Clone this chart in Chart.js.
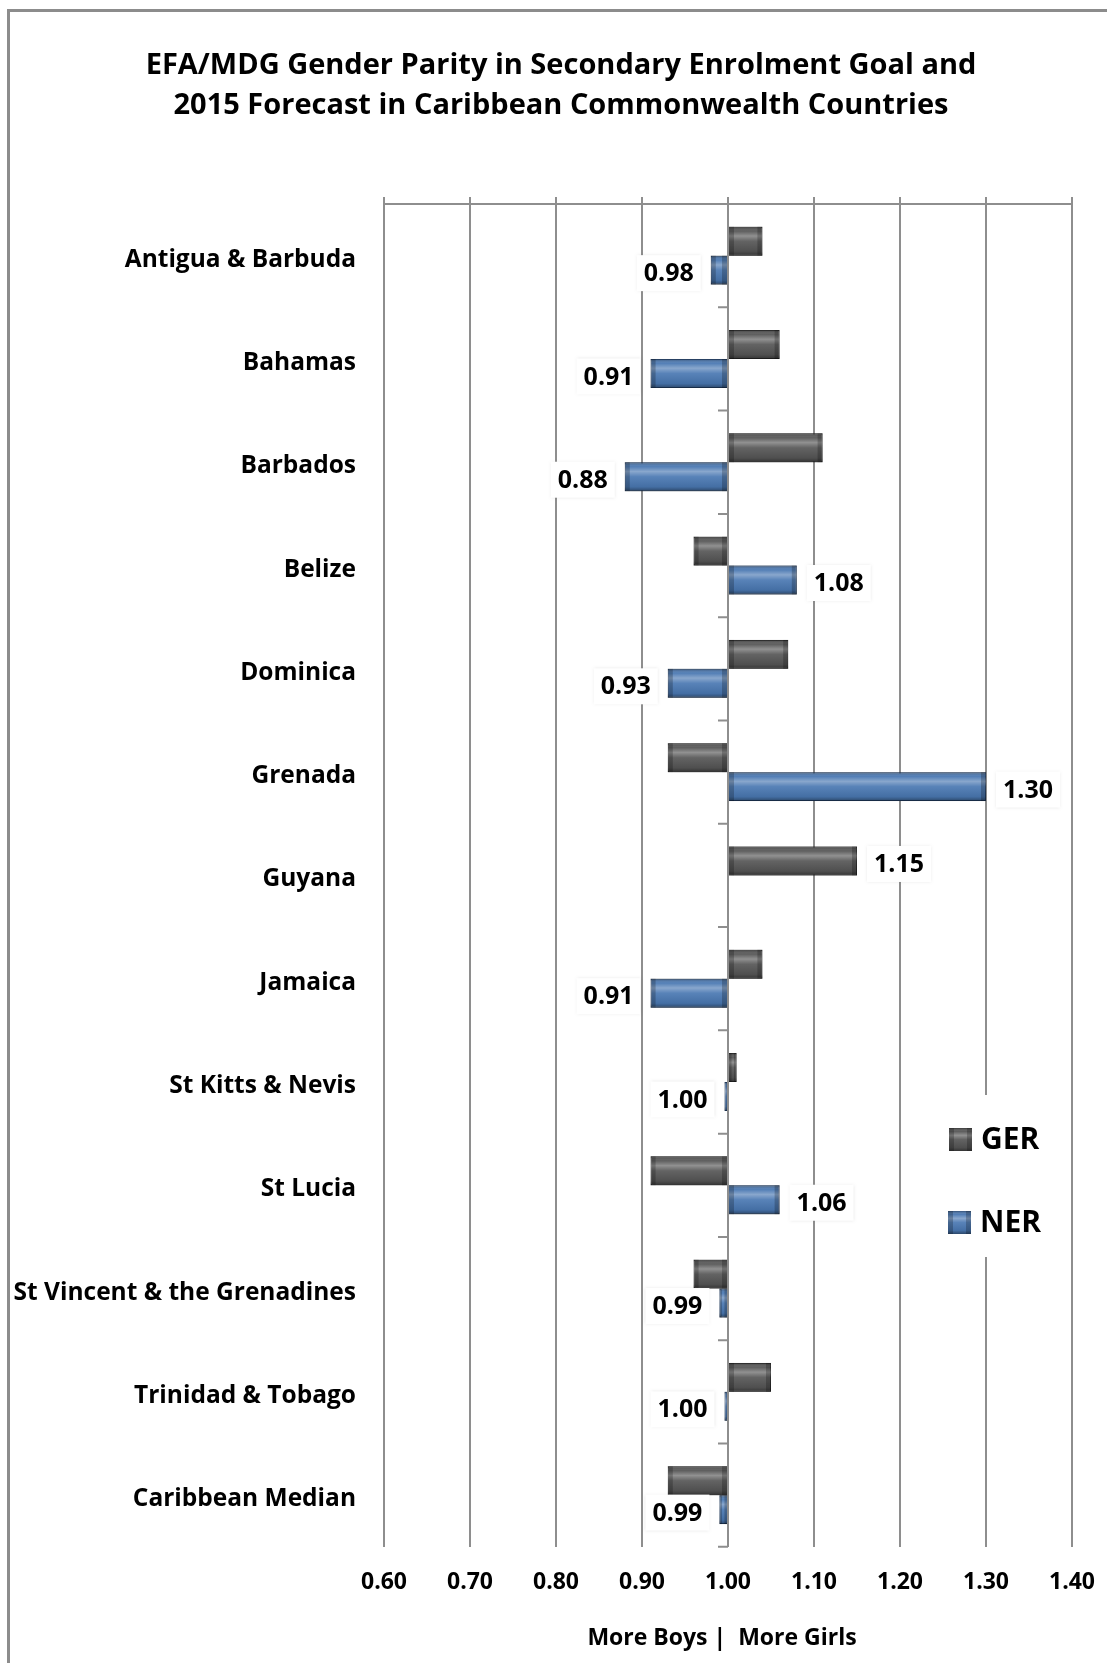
<!DOCTYPE html>
<html lang="en">
<head>
<meta charset="UTF-8">
<title>EFA/MDG Gender Parity in Secondary Enrolment</title>
<script src="https://cdn.jsdelivr.net/npm/chart.js"></script>
<style>
  body { margin: 0; background: #fff; overflow: hidden; }
  .frame { position: absolute; left: 7px; top: 9px; width: 1300px; height: 1900px; border: 3px solid #8c8c8c; }
  .box { position: absolute; left: 0; top: 0; width: 1107px; height: 1663px; }
</style>
</head>
<body>
<div class="frame"></div>
<div class="box"><canvas id="chart"></canvas></div>

<script>
// data
var categories = ['Antigua & Barbuda', 'Bahamas', 'Barbados', 'Belize', 'Dominica', 'Grenada', 'Guyana',
  'Jamaica', 'St Kitts & Nevis', 'St Lucia', 'St Vincent & the Grenadines', 'Trinidad & Tobago', 'Caribbean Median']
var gerValues = [1.04, 1.06, 1.11, 0.96, 1.07, 0.93, 1.15, 1.04, 1.01, 0.91, 0.96, 1.05, 0.93]
var nerValues = [0.98, 0.91, 0.88, 1.08, 0.93, 1.30, null, 0.91, 0.996, 1.06, 0.99, 0.996, 0.99]
var xTicks = [0.6, 0.7, 0.8, 0.9, 1.0, 1.1, 1.2, 1.3, 1.4]

var fontFamily = '"Open Sans", Lato, sans-serif'
var gridColor = '#8e8e8e'
var colors = {
  GER: { fill: '#565656', edge: '#383838' },
  NER: { fill: '#4a78b2', edge: '#2d5387' }
}

function barGloss(ctx, left, top, w, h) {
  var g = ctx.createLinearGradient(0, top, 0, top + h)
  g.addColorStop(0, 'rgba(0,0,0,0.35)')
  g.addColorStop(0.15, 'rgba(255,255,255,0.05)')
  g.addColorStop(0.32, 'rgba(255,255,255,0.35)')
  g.addColorStop(0.5, 'rgba(255,255,255,0.08)')
  g.addColorStop(0.85, 'rgba(0,0,0,0.08)')
  g.addColorStop(1, 'rgba(0,0,0,0.4)')
  ctx.fillStyle = g
  ctx.fillRect(left, top, w, h)
  var e = Math.min(5, w / 3)
  ctx.fillStyle = 'rgba(0,0,0,0.22)'
  ctx.fillRect(left, top, e, h)
  ctx.fillRect(left + w - e, top, e, h)
}

var parityDecor = {
  id: 'parityDecor',
  afterLayout: function (chart) {
    // let the long category labels run past the axis box instead of being clipped
    chart.scales.y.left = 0
  },
  beforeDatasetsDraw: function (chart) {
    var ctx = chart.ctx
    var a = chart.chartArea
    var xS = chart.scales.x
    var yS = chart.scales.y
    ctx.save()
    ctx.strokeStyle = gridColor
    ctx.lineWidth = 2
    ctx.beginPath()
    ctx.moveTo(a.left - 1, a.top)
    ctx.lineTo(a.right + 1, a.top)
    xTicks.forEach(function (t) {
      var px = xS.getPixelForValue(t)
      ctx.moveTo(px, a.top - 7)
      ctx.lineTo(px, a.top)
    })
    var x1 = xS.getPixelForValue(1)
    for (var i = 0; i <= categories.length; i++) {
      var yy = yS.getPixelForValue(i - 0.5)
      ctx.moveTo(x1 - 10, yy)
      ctx.lineTo(x1, yy)
    }
    ctx.stroke()
    ctx.restore()

    // soft shadow under the bars
    ctx.save()
    ctx.shadowColor = 'rgba(0,0,0,0.3)'
    ctx.shadowBlur = 5
    ctx.shadowOffsetX = 2
    ctx.shadowOffsetY = 2
  },
  afterDatasetsDraw: function (chart) {
    var ctx = chart.ctx
    ctx.restore()

    chart.data.datasets.forEach(function (ds, di) {
      chart.getDatasetMeta(di).data.forEach(function (bar, i) {
        if (ds.data[i] == null) return
        var left = Math.min(bar.x, bar.base)
        var w = Math.abs(bar.x - bar.base)
        barGloss(ctx, left, bar.y - bar.height / 2, w, bar.height)
      })
    })

    // value labels (NER, or GER where NER is missing)
    ctx.save()
    ctx.font = 'bold 25px ' + fontFamily
    ctx.textBaseline = 'middle'
    categories.forEach(function (c, i) {
      var di = nerValues[i] != null ? 1 : 0
      var v = chart.data.datasets[di].data[i]
      var bar = chart.getDatasetMeta(di).data[i]
      var text = v.toFixed(2)
      var w = ctx.measureText(text).width
      var x = v < 1 ? bar.x - 17 - w : bar.x + 17
      var y = bar.y + 3
      ctx.shadowColor = 'rgba(0,0,0,0.12)'
      ctx.shadowBlur = 3
      ctx.fillStyle = '#fff'
      ctx.fillRect(x - 7, y - 18, w + 14, 36)
      ctx.shadowColor = 'transparent'
      ctx.fillStyle = '#000'
      ctx.fillText(text, x, y + 1)
    })
    ctx.restore()

    // legend
    ctx.save()
    ctx.fillStyle = '#fff'
    ctx.fillRect(925, 1095, 137, 162)
    var items = [['GER', 949, 1128, 1140], ['NER', 948, 1211, 1223]]
    items.forEach(function (it) {
      var c = colors[it[0]]
      ctx.fillStyle = c.fill
      ctx.fillRect(it[1], it[2], 23, 23)
      barGloss(ctx, it[1], it[2], 23, 23)
      ctx.fillStyle = '#000'
      ctx.font = 'bold 30px ' + fontFamily
      ctx.textBaseline = 'middle'
      ctx.fillText(it[0], it[1] + 32, it[3])
    })
    ctx.restore()
  }
}

var ctx = document.getElementById('chart').getContext('2d')
var myChart = new Chart(ctx, {
  type: 'bar',
  data: {
    labels: categories,
    datasets: [{
      label: 'GER',
      data: gerValues,
      base: 1,
      backgroundColor: colors.GER.fill,
      borderColor: colors.GER.edge,
      borderWidth: 1
    }, {
      label: 'NER',
      data: nerValues,
      base: 1,
      backgroundColor: colors.NER.fill,
      borderColor: colors.NER.edge,
      borderWidth: 1
    }]
  },
  options: {
    indexAxis: 'y',
    responsive: true,
    maintainAspectRatio: false,
    animation: false,
    categoryPercentage: 0.56,
    barPercentage: 1,
    layout: { padding: { left: 50, right: 35, top: 0, bottom: 11 } },
    scales: {
      x: {
        min: 0.6,
        max: 1.4,
        afterBuildTicks: function (scale) {
          scale.ticks = xTicks.map(function (v) { return { value: v } })
        },
        afterFit: function (scale) {
          scale.paddingLeft = 0
          scale.paddingRight = 0
        },
        grid: { color: gridColor, lineWidth: 2, drawTicks: false },
        border: { display: false },
        ticks: {
          padding: 22,
          color: '#000',
          font: { family: fontFamily, size: 23, weight: 'bold' },
          callback: function (v) { return Number(v).toFixed(2) }
        },
        title: {
          display: true,
          text: 'More Boys |  More Girls  ',
          color: '#000',
          font: { family: fontFamily, size: 23, weight: 'bold' },
          padding: { top: 6, bottom: 0 }
        }
      },
      y: {
        afterFit: function (scale) { scale.width = 334 },
        grid: { display: false },
        border: { display: false },
        ticks: {
          padding: 20,
          labelOffset: 4,
          autoSkip: false,
          color: '#000',
          font: { family: fontFamily, size: 24.5, weight: 'bold' }
        }
      }
    },
    plugins: {
      legend: { display: false },
      tooltip: { enabled: false },
      title: {
        display: true,
        text: ['EFA/MDG Gender Parity in Secondary Enrolment Goal and',
          '2015 Forecast in Caribbean Commonwealth Countries'],
        color: '#000',
        font: { family: fontFamily, size: 29, weight: 'bold', lineHeight: 1.38 },
        padding: { top: 46, bottom: 78 }
      }
    }
  },
  plugins: [parityDecor]
})
</script>
</body>
</html>
